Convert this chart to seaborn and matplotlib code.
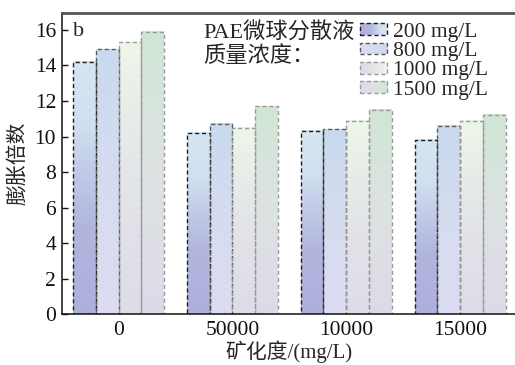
import numpy as np
import pandas as pd
import seaborn as sns
import matplotlib
matplotlib.use("Agg")
import matplotlib.pyplot as plt
from matplotlib.colors import LinearSegmentedColormap
from matplotlib.patches import Rectangle
from matplotlib.legend_handler import HandlerBase

# Salinity groups (x axis) and PAE dispersion concentrations (hue)
categories = ["0", "50000", "10000", "15000"]
series = ["200 mg/L", "800 mg/L", "1000 mg/L", "1500 mg/L"]

# Swelling ratio for each concentration across the salinity groups
v200 = [14.2, 10.2, 10.3, 9.8]
v800 = [14.9, 10.7, 10.4, 10.6]
v1000 = [15.3, 10.5, 10.9, 10.9]
v1500 = [15.9, 11.7, 11.5, 11.2]

yticks = [0, 2, 4, 6, 8, 10, 12, 14, 16]

df = pd.DataFrame({
    "矿化度": categories * 4,
    "浓度": [s for s in series for _ in categories],
    "膨胀倍数": v200 + v800 + v1000 + v1500,
})

# Vertical gradients (bottom -> top) used to fill each series
grad_stops = [
    [(0.0, "#aeb0dc"), (0.35, "#b2b6de"), (0.6, "#c4cee9"), (0.76, "#d0e0f0"), (1.0, "#d5e5f2")],
    [(0.0, "#dcdcf2"), (0.5, "#d6dcf0"), (1.0, "#c9daee")],
    [(0.0, "#dddce8"), (0.5, "#e3e5e8"), (1.0, "#eef6ea")],
    [(0.0, "#dcdae8"), (0.5, "#dde2e2"), (1.0, "#d0e6d5")],
]
cmaps = [LinearSegmentedColormap.from_list(f"g{i}", s) for i, s in enumerate(grad_stops)]
edges = ["#1e1e1e", "#5a5a5a", "#9a9a9a", "#9a9a9a"]
dash = (0, (3, 2))

sns.set_style("ticks")
plt.rcParams["font.family"] = ["Liberation Serif", "Noto Sans CJK SC"]
plt.rcParams["axes.unicode_minus"] = False

fig = plt.figure(figsize=(5.15, 3.65), dpi=100)
ax = fig.add_axes([0.1198, 0.1389, 0.884, 0.8255])

sns.barplot(data=df, x="矿化度", y="膨胀倍数", hue="浓度", order=categories,
            hue_order=series, palette=[c(0.5) for c in cmaps], saturation=1,
            width=0.8, errorbar=None, legend=False, ax=ax)

grad = np.linspace(0, 1, 256).reshape(-1, 1)
for i, cont in enumerate(ax.containers):
    for bar in cont:
        x0, w, h = bar.get_x(), bar.get_width(), bar.get_height()
        ax.imshow(grad, cmap=cmaps[i], extent=[x0, x0 + w, 0, h], origin="lower",
                  aspect="auto", interpolation="bilinear", zorder=1)
        bar.set_facecolor("none")
        bar.set_edgecolor(edges[i])
        bar.set_linestyle(dash)
        bar.set_linewidth(1.0)
        bar.set_zorder(2)

ax.set_xlim(-0.5, 3.5)
ax.set_ylim(0, 16.95)
ax.set_yticks(yticks)
ax.tick_params(axis="both", direction="in", length=4, width=1, labelsize=15.5,
               colors="#111111")
ax.tick_params(axis="x", pad=5)
ax.tick_params(axis="y", pad=4)

for side in ["left", "bottom"]:
    ax.spines[side].set_color("#111111")
    ax.spines[side].set_linewidth(1.1)
ax.spines["right"].set_visible(False)
ax.spines["top"].set_color("#555555")
ax.spines["top"].set_linewidth(2.0)

ax.set_xlabel("矿化度/(mg/L)", fontsize=15, labelpad=0)
ax.set_ylabel("膨胀倍数", fontsize=15, labelpad=4)

ax.text(-0.40, 15.66, "b", fontsize=16, va="baseline", ha="left")
ax.text(0.3103, 0.969, "PAE微球分散液\n质量浓度：", transform=ax.transAxes,
        fontsize=16, va="top", ha="left", linespacing=1.15)


class GradientHandler(HandlerBase):
    """Legend key drawn as a horizontal gradient with a dashed outline."""

    def __init__(self, cmap, edge):
        super().__init__()
        self.cmap = cmap
        self.edge = edge

    def create_artists(self, legend, orig_handle, xdescent, ydescent, width,
                       height, fontsize, trans):
        arts = []
        n = 24
        for k in range(n):
            arts.append(Rectangle((-xdescent + width * k / n, -ydescent),
                                  width / n + 0.3, height,
                                  facecolor=self.cmap(k / (n - 1)),
                                  edgecolor="none", transform=trans))
        arts.append(Rectangle((-xdescent, -ydescent), width, height,
                              facecolor="none", edgecolor=self.edge,
                              linestyle=dash, linewidth=1.0, transform=trans))
        return arts


handles = [Rectangle((0, 0), 1, 1) for _ in series]
hmap = {h: GradientHandler(cmaps[i], edges[i]) for i, h in enumerate(handles)}
ax.legend(handles, series, handler_map=hmap, loc="upper left",
          bbox_to_anchor=(0.656, 0.968), frameon=False, fontsize=15.5,
          borderpad=0, borderaxespad=0, handlelength=1.25, handleheight=0.45,
          handletextpad=0.25, labelspacing=0.02)

fig.savefig("out.png", dpi=100)
